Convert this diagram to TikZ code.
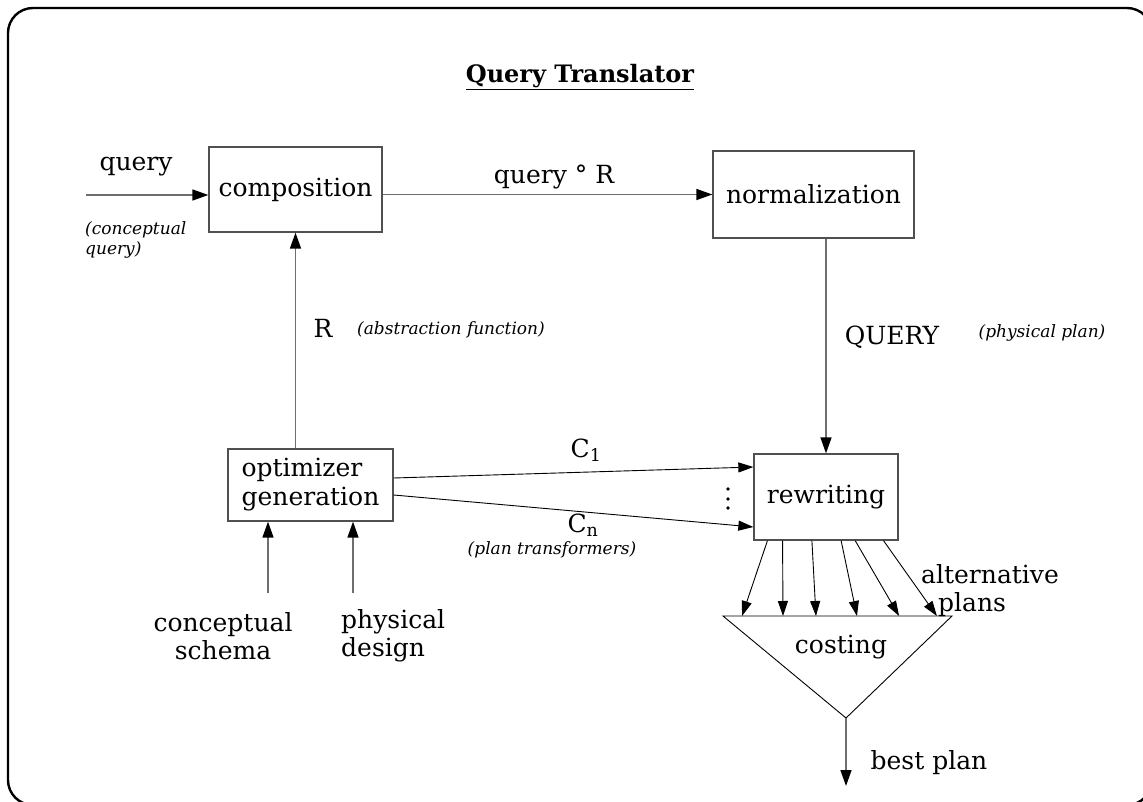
\documentclass[tikz,border=0pt]{standalone}
\usepackage{fontspec}
\setmainfont{DejaVu Serif}
\usetikzlibrary{arrows.meta,calc}
\definecolor{linegray}{RGB}{110,110,110}
\definecolor{boxgray}{RGB}{80,80,80}
\begin{document}
\begin{tikzpicture}[x=1pt,y=-1pt,
  lbl/.style={font=\fontsize{25}{28}\selectfont, inner sep=0pt},
  note/.style={font=\fontsize{17}{20}\selectfont\itshape, inner sep=0pt},
  box/.style={draw=boxgray, line width=1.3pt, inner sep=0pt, font=\fontsize{25}{29}\selectfont},
  garrow/.style={draw=linegray, line width=1.5pt, -{Triangle[length=16pt,width=11pt,color=black]}},
  barrow/.style={draw=black, line width=0.9pt, -{Triangle[length=15pt,width=10pt]}},
  thinline/.style={draw=black, line width=0.9pt}
]
\useasboundingbox (0,0) rectangle (1143,802);
\draw[line width=2.4pt, rounded corners=25pt] (8,8) rectangle (1152,805);

% title
\node[font=\fontsize{24}{28}\selectfont\bfseries, inner sep=0pt] (title) at (580,77) {\underline{Query Translator}};

% boxes
\node[box, minimum width=173pt, minimum height=85pt] (comp) at (295.5,189.5) {composition};
\node[box, minimum width=201pt, minimum height=87pt] (norm) at (813.5,194.5) {normalization};
\node[box, minimum width=165pt, minimum height=72pt, align=left] (opt) at (310.5,485) {optimizer\\generation};
\node[box, minimum width=144pt, minimum height=86pt] (rw) at (826,497) {rewriting};

% labels
\node[lbl] (lquery) at (136,167) {query};
\node[note, align=left, anchor=west] (lcq) at (85,240) {(conceptual\\query)};
\node[lbl] (lqr) at (554,177) {query ° R};
\node[lbl] (lR) at (323,328) {R};
\node[note] (labs) at (451,330) {(abstraction function)};
\node[lbl] (lQ) at (892,337) {QUERY};
\node[note] (lpp) at (1042,333) {(physical plan)};
\node[lbl] (lc1) at (586,450) {C\textsubscript{1}};
\node[lbl] (lcn) at (583,525) {C\textsubscript{n}};
\node[note] (lpt) at (552,550) {(plan transformers)};
\node[lbl, align=center] (lcs) at (223,636) {conceptual\\schema};
\node[lbl, align=left, anchor=west] (lpd) at (341,636) {physical\\design};
\node[lbl, align=left, anchor=west] (lalt) at (921,591) {alternative\\\hspace*{17pt}plans};
\node[lbl] (lcost) at (841,647) {costing};
\node[lbl] (lbp) at (929,763) {best plan};

% dots
\fill (728,489) circle (1.8);
\fill (728,499) circle (1.8);
\fill (728,508) circle (1.8);

% coordinates
\coordinate (qin) at (86,195);
\coordinate (cs) at (268,593);
\coordinate (pd) at (353,593);
\coordinate (tl) at (723,616);
\coordinate (tr) at (952,616);
\coordinate (apex) at (846,718);
\coordinate (bp) at (846,786);

% connectors
\draw[garrow] (qin) -- (qin -| comp.west);
\draw[garrow] (comp.east |- norm.west) -- (norm.west);
\draw[garrow] (norm.south -| rw.north) -- (rw.north);
\draw[garrow] (opt.north -| comp.south) -- (comp.south);
\draw[garrow] (cs) -- (cs |- opt.south);
\draw[garrow] (pd) -- (pd |- opt.south);
\draw[barrow] ($(opt.east)+(0,-7)$) -- ($(rw.west)+(0,-30)$);
\draw[barrow] ($(opt.east)+(0,10)$) -- ($(rw.west)+(0,30)$);
\draw[thinline] (tl) -- (tr) -- (apex) -- cycle;
\foreach \a/\b in {0.097/0.083, 0.201/0.262, 0.403/0.406, 0.604/0.585, 0.701/0.769, 0.896/0.934}
  \draw[barrow] ($(rw.south west)!\a!(rw.south east)$) -- ($(tl)!\b!(tr)$);
\draw[garrow] (apex) -- (bp);
\end{tikzpicture}
\end{document}
